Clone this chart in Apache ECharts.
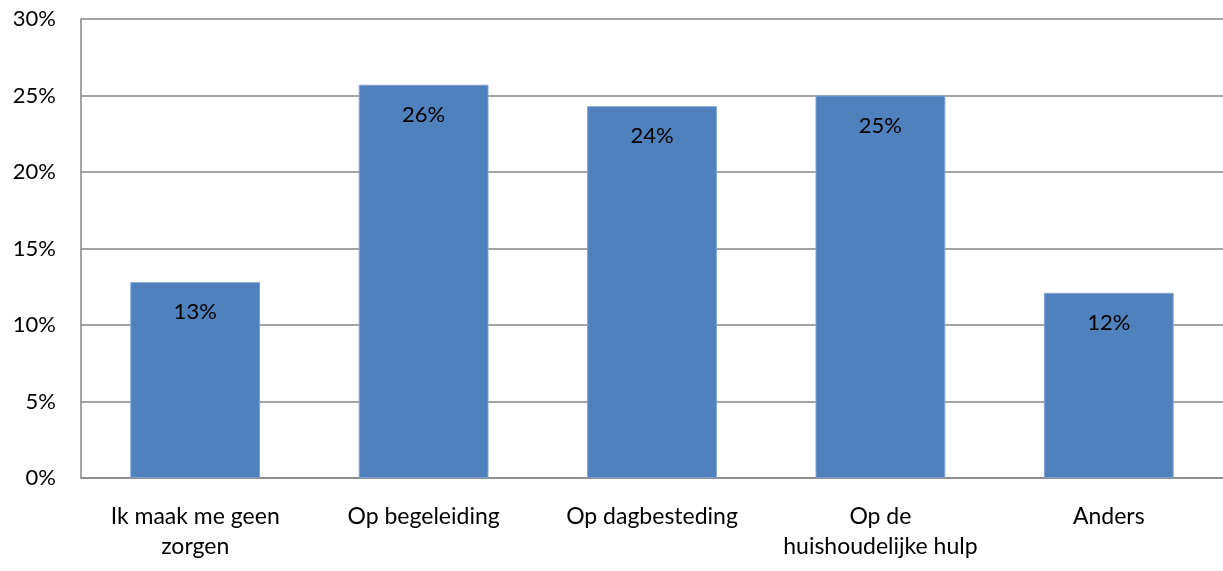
<!DOCTYPE html>
<html><head><meta charset="utf-8">
<script src="https://cdn.jsdelivr.net/npm/echarts@6/dist/echarts.min.js"></script>
<style>html,body{margin:0;padding:0;background:#fff}#c{width:1223px;height:571px}</style>
</head><body><div id="c"></div>
<script>
const categories = ["Ik maak me geen\nzorgen", "Op begeleiding", "Op dagbesteding", "Op de\nhuishoudelijke hulp", "Anders"];
const values = [12.8, 25.7, 24.3, 25.0, 12.1];
const labels = ["13%", "26%", "24%", "25%", "12%"];
const yTicks = [0, 5, 10, 15, 20, 25, 30];

const font = "Lato, 'Noto Sans', sans-serif";
const chart = echarts.init(document.getElementById('c'), null, {renderer: 'canvas'});
chart.setOption({
  animation: false,
  grid: {left: 81, right: -2, top: 19, bottom: 93, containLabel: false},
  xAxis: {
    type: 'category', data: categories,
    axisLine: {lineStyle: {color: '#868686', width: 1.5}},
    axisTick: {show: false},
    axisLabel: {color: '#000', fontFamily: font, fontSize: 23, lineHeight: 30, margin: 24, interval: 0}
  },
  yAxis: {
    type: 'value', min: 0, max: 30, interval: 5,
    axisLine: {show: true, lineStyle: {color: '#868686', width: 1.5}},
    axisTick: {show: false},
    splitLine: {lineStyle: {color: '#868686', width: 1.5}},
    axisLabel: {color: '#000', fontFamily: font, fontSize: 22, margin: 25, formatter: v => yTicks.includes(v) ? v + '%' : ''}
  },
  series: [{
    type: 'bar', data: values, barWidth: '56.8%',
    itemStyle: {color: '#4F81BD', borderColor: '#7EA1D1', borderWidth: 1},
    label: {show: true, position: 'insideTop', distance: 19, color: '#000', fontFamily: font, fontSize: 22,
      formatter: p => labels[p.dataIndex]}
  }]
});
</script></body></html>
